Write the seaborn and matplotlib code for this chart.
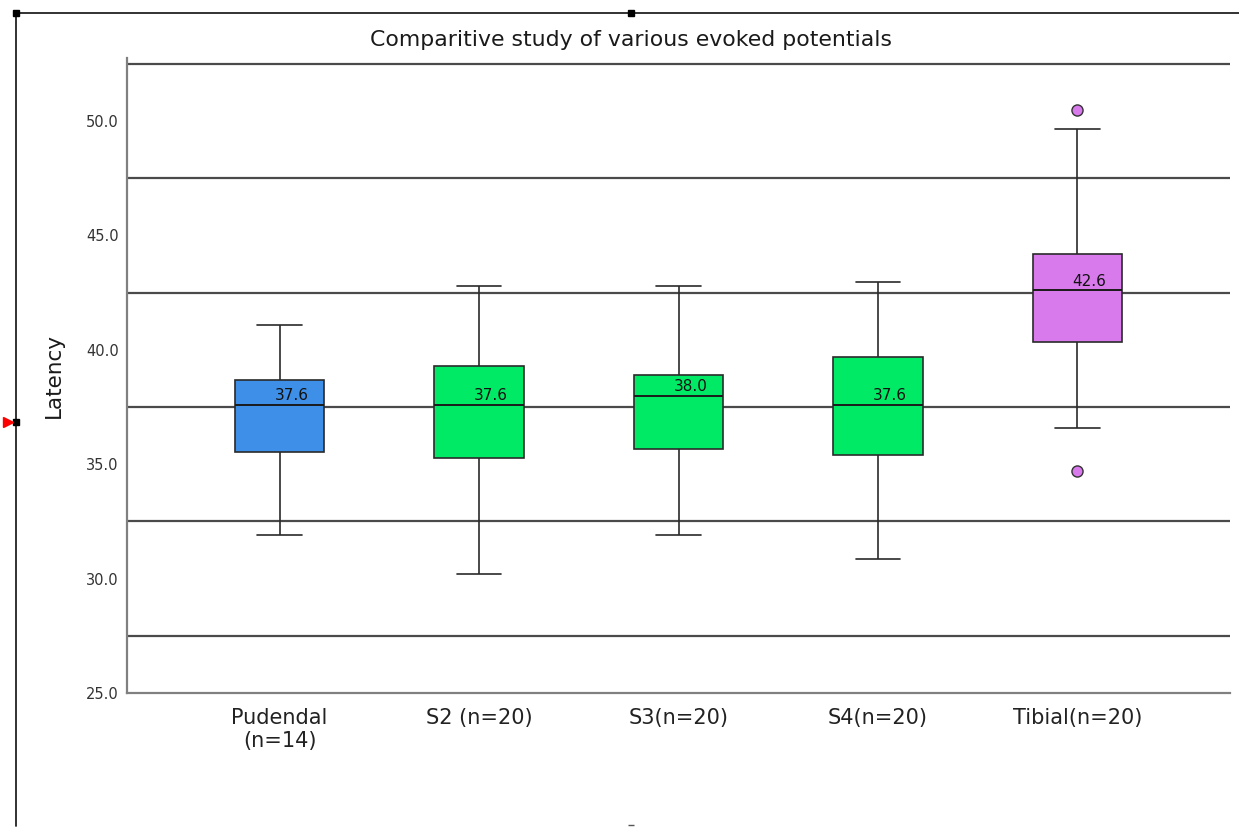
import numpy as np
import pandas as pd
import matplotlib
matplotlib.use("Agg")
import matplotlib.pyplot as plt
import seaborn as sns
from matplotlib.lines import Line2D

# ---- data (five-number summaries) ----
categories = ["Pudendal\n(n=14)", "S2 (n=20)", "S3(n=20)", "S4(n=20)", "Tibial(n=20)"]
whisker_low = [31.9, 30.2, 31.9, 30.85, 36.56]
q1 = [35.52, 35.26, 35.66, 35.39, 40.34]
median = [37.6, 37.6, 38.0, 37.6, 42.6]
q3 = [38.67, 39.28, 38.9, 39.67, 44.17]
whisker_high = [41.07, 42.77, 42.77, 42.95, 49.66]
outliers_low = [[], [], [], [], [34.69]]
outliers_high = [[], [], [], [], [50.46]]
box_colors = ["#3D8FE8", "#00EA66", "#00EA66", "#00EA66", "#D87AEC"]
ytick_values = [25.0, 30.0, 35.0, 40.0, 45.0, 50.0]
grid_values = [27.5, 32.5, 37.5, 42.5, 47.5, 52.5]
title = "Comparitive study of various evoked potentials"
ylabel = "Latency"

# Build a sample per group whose quartiles equal the summary values
rows = []
for cat, lo, a, m, b, hi, ol, oh in zip(categories, whisker_low, q1, median, q3,
                                        whisker_high, outliers_low, outliers_high):
    vals = list(ol) + [lo, a, a, m, b, b, hi] + list(oh)
    for v in vals:
        rows.append({"group": cat, "value": v})
df = pd.DataFrame(rows)

W, H = 1239, 827
sns.set_style("white")
plt.rcParams["font.family"] = ["DejaVu Sans"]
fig = plt.figure(figsize=(W / 100, H / 100), dpi=100)
ax = fig.add_axes([127 / W, 1 - 693 / H, (1230 - 127) / W, (693 - 58) / H])

for g in grid_values:
    ax.axhline(g, color="#4a4a4a", lw=1.6, zorder=0.5)

sns.boxplot(data=df, x="group", y="value", hue="group", order=categories,
            hue_order=categories, palette=dict(zip(categories, box_colors)),
            saturation=1, width=0.45, whis=1.45, linecolor="#2a2a2a",
            linewidth=1.2, legend=False, ax=ax,
            flierprops=dict(marker="o", markerfacecolor="#D87AEC",
                            markeredgecolor="#333333", markersize=8,
                            markeredgewidth=1.0),
            medianprops=dict(color="#1a1a1a", linewidth=1.4))

for i, m in enumerate(median):
    ax.text(i + 0.06, m + 0.2, f"{m:.1f}", ha="center", va="baseline",
            fontsize=11, color="#111111", zorder=5)

ax.set_xlim(-0.765, 4.765)
ax.set_ylim(25, 52.75)
ax.set_yticks(ytick_values)
ax.set_yticklabels([f"{v:.1f}" for v in ytick_values])
ax.set_xticks(range(len(categories)))
ax.set_xticklabels(categories, fontsize=15, color="#222222", linespacing=1.15)
ax.tick_params(axis="y", length=0, pad=6, labelsize=10.5, labelcolor="#333333")
ax.tick_params(axis="x", length=0, pad=11)
ax.set_xlabel("")
ax.set_ylabel("")
for s in ["top", "right"]:
    ax.spines[s].set_visible(False)
for s in ["left", "bottom"]:
    ax.spines[s].set_color("#808080")
    ax.spines[s].set_linewidth(1.6)

fig.text(631 / W, 1 - 40 / H, title, ha="center", va="center", fontsize=15.8,
         color="#1a1a1a")
fig.text(54 / W, 1 - 375 / H, ylabel, ha="center", va="center", rotation=90,
         fontsize=15.5, color="#1a1a1a")

# selection frame decorations seen in the reference screenshot
fig.add_artist(Line2D([15 / W, 1.0], [1 - 13 / H, 1 - 13 / H],
                      transform=fig.transFigure, color="#222222", lw=1.3))
fig.add_artist(Line2D([16 / W, 16 / W], [1 - 13 / H, 1 - 826 / H],
                      transform=fig.transFigure, color="#222222", lw=1.3))
for (px, py) in [(16, 13), (631, 13), (16, 422)]:
    fig.add_artist(Line2D([px / W], [1 - py / H], transform=fig.transFigure,
                          marker="s", markersize=5, color="black", lw=0))
fig.add_artist(Line2D([8 / W], [1 - 422 / H], transform=fig.transFigure,
                      marker=">", markersize=7, color="red", lw=0))
fig.add_artist(Line2D([631 / W], [1 - 825 / H], transform=fig.transFigure,
                      marker="_", markersize=5, color="#555555", lw=0))

fig.savefig("out.png", dpi=100, facecolor="white")
